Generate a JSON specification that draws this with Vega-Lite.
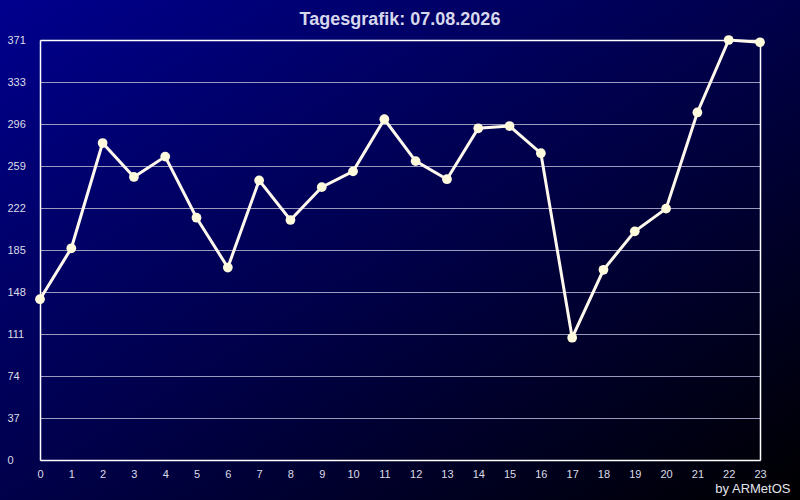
{
  "$schema": "https://vega.github.io/schema/vega-lite/v6.json",
  "width": 800,
  "height": 500,
  "autosize": {"type": "none"},
  "padding": 0,
  "background": "#000040",
  "view": {
    "stroke": null,
    "fill": {
      "gradient": "linear",
      "x1": 0, "y1": 0, "x2": 1, "y2": 1,
      "stops": [
        {"offset": 0, "color": "#00008e"},
        {"offset": 0.5, "color": "#00004a"},
        {"offset": 1, "color": "#000000"}
      ]
    }
  },
  "title": {
    "text": "Tagesgrafik: 07.08.2026",
    "font": "Liberation Sans",
    "fontSize": 18,
    "fontWeight": "bold",
    "color": "#d8d8ec",
    "anchor": "middle",
    "frame": "group",
    "baseline": "alphabetic",
    "offset": 0,
    "dy": 43
  },
  "data": {
    "values": [
      {"hour": 0, "value": 142},
      {"hour": 1, "value": 187},
      {"hour": 2, "value": 280},
      {"hour": 3, "value": 250},
      {"hour": 4, "value": 268},
      {"hour": 5, "value": 214},
      {"hour": 6, "value": 170},
      {"hour": 7, "value": 247},
      {"hour": 8, "value": 212},
      {"hour": 9, "value": 241},
      {"hour": 10, "value": 255},
      {"hour": 11, "value": 301},
      {"hour": 12, "value": 264},
      {"hour": 13, "value": 248},
      {"hour": 14, "value": 293},
      {"hour": 15, "value": 295},
      {"hour": 16, "value": 271},
      {"hour": 17, "value": 108},
      {"hour": 18, "value": 168},
      {"hour": 19, "value": 202},
      {"hour": 20, "value": 222},
      {"hour": 21, "value": 307},
      {"hour": 22, "value": 371},
      {"hour": 23, "value": 369}
    ]
  },
  "layer": [
    {
      "mark": {"type": "line", "color": "#fff8ec", "strokeWidth": 3},
      "encoding": {
        "x": {
          "field": "hour",
          "type": "quantitative",
          "scale": {"domain": [0, 23], "range": [40, 760], "nice": false, "zero": false},
          "axis": {
            "orient": "bottom",
            "offset": -40,
            "values": [0, 1, 2, 3, 4, 5, 6, 7, 8, 9, 10, 11, 12, 13, 14, 15, 16, 17, 18, 19, 20, 21, 22, 23],
            "grid": false,
            "ticks": false,
            "tickSize": 0,
            "domainColor": "#ffffff",
            "domainWidth": 1.5,
            "labelFont": "Liberation Sans",
            "labelFontSize": 11,
            "labelColor": "#dddde8",
            "labelPadding": 8,
            "labelBaseline": "top",
            "labelFlush": false,
            "labelBound": false,
            "labelOverlap": false,
            "title": "by ARMetOS",
            "titleFont": "Liberation Sans",
            "titleFontSize": 13,
            "titleFontWeight": "normal",
            "titleColor": "#e4e4ec",
            "titleAlign": "right",
            "titleBaseline": "alphabetic",
            "titleX": 790,
            "titleY": 32
          }
        },
        "y": {
          "field": "value",
          "type": "quantitative",
          "scale": {"domain": [0, 371], "range": [460, 40], "nice": false, "zero": false},
          "axis": {
            "orient": "left",
            "offset": -40,
            "values": [0, 37.1, 74.2, 111.3, 148.4, 185.5, 222.6, 259.7, 296.8, 333.9, 371],
            "labelExpr": "floor(datum.value)",
            "grid": true,
            "gridColor": "#9a9abc",
            "gridWidth": 1,
            "ticks": false,
            "tickSize": 0,
            "domainColor": "#ffffff",
            "domainWidth": 1.5,
            "labelFont": "Liberation Sans",
            "labelFontSize": 11,
            "labelColor": "#dddde8",
            "labelAlign": "left",
            "labelPadding": 33,
            "labelFlush": false,
            "labelOverlap": false,
            "title": null
          }
        }
      }
    },
    {
      "mark": {"type": "circle", "color": "#fffbdc", "opacity": 1, "size": 95},
      "encoding": {
        "x": {
          "field": "hour",
          "type": "quantitative",
          "axis": {
            "orient": "top",
            "offset": -40,
            "labels": false,
            "ticks": false,
            "grid": false,
            "domainColor": "#ffffff",
            "domainWidth": 1.5,
            "title": null
          }
        },
        "y": {
          "field": "value",
          "type": "quantitative",
          "axis": {
            "orient": "right",
            "offset": -40,
            "labels": false,
            "ticks": false,
            "grid": false,
            "domainColor": "#ffffff",
            "domainWidth": 1.5,
            "title": null
          }
        }
      }
    }
  ]
}
